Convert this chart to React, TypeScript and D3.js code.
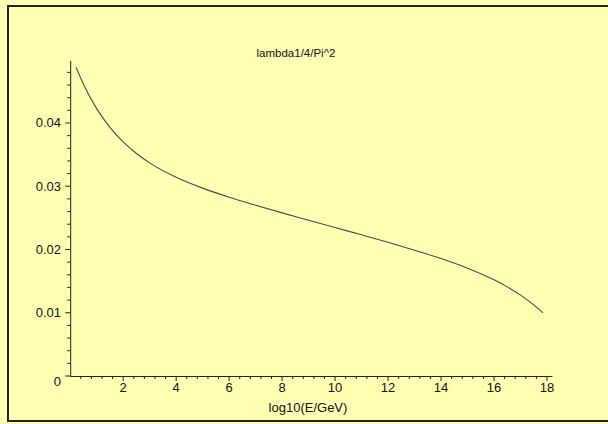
import React from "react";
import * as d3 from "d3";

// Running quartic coupling lambda/(4*Pi^2) against log10 of the energy scale
const logE = [0.22, 0.5, 1.0, 1.5, 2.0, 2.5, 3.0, 4.0, 5.0, 6.0, 7.0, 8.0, 9.0, 10.0, 11.0, 12.0, 13.0, 14.0, 15.0, 16.0, 16.5, 17.0, 17.5, 17.85];
const lambdaScaled = [
  0.0488, 0.04613, 0.04227, 0.03931, 0.037, 0.03518, 0.0337, 0.03142, 0.0297, 0.02827,
  0.027, 0.02579, 0.02463, 0.02347, 0.02232, 0.02114, 0.01989, 0.01856, 0.01704, 0.0152,
  0.01409, 0.01279, 0.01124, 0.00997,
];

const xMajorTicks = [2, 4, 6, 8, 10, 12, 14, 16, 18];
const yMajorTicks = [0, 0.01, 0.02, 0.03, 0.04];
const yTickLabels = ["0", "0.01", "0.02", "0.03", "0.04"];

const title = "lambda1/4/Pi^2";
const xLabel = "log10(E/GeV)";

const W = 608;
const H = 424;
const bg = "#ffffb4";
const ink = "#222";
const font = "'Liberation Sans', Arial, sans-serif";

export default function App() {
  const x = d3.scaleLinear().domain([0, 18.2]).range([70.2, 552.3]);
  const y = d3.scaleLinear().domain([0, 0.0498]).range([376, 61]);

  const xMinor = d3.range(0, 18.2001, 0.4).filter((v) => Math.abs(v / 2 - Math.round(v / 2)) > 1e-6);
  const yMinor = d3.range(0.002, 0.0499, 0.002).filter((v) => Math.abs(v / 0.01 - Math.round(v / 0.01)) > 1e-6);

  const pts: [number, number][] = logE.map((v, i) => [v, lambdaScaled[i]]);
  const line = d3
    .line<[number, number]>()
    .x((d) => x(d[0]))
    .y((d) => y(d[1]))
    .curve(d3.curveMonotoneX);

  const [x0, x1] = x.range();
  const [y0, y1] = y.range();

  return (
    <svg
      width={W}
      height={H}
      style={{ position: "absolute", left: 0, top: 0, display: "block" }}
      fontFamily={font}
    >
      <rect x={0} y={0} width={W} height={H} fill={bg} />
      <rect x={8} y={6} width={W + 10} height={415} fill="none" stroke={ink} strokeWidth={2} />

      <text x={296} y={57} textAnchor="middle" fontSize={11.5} fill="#111">
        {title}
      </text>

      {/* axes */}
      <line x1={x0} x2={x1} y1={y0 + 0.5} y2={y0 + 0.5} stroke={ink} strokeWidth={1} />
      <line x1={x0 + 0.5} x2={x0 + 0.5} y1={y0} y2={y1} stroke={ink} strokeWidth={1} />

      {xMinor.map((v, i) => (
        <line key={"xm" + i} x1={x(v)} x2={x(v)} y1={y0} y2={y0 + 3} stroke={ink} strokeWidth={1} />
      ))}
      {xMajorTicks.map((v) => (
        <g key={"xt" + v}>
          <line x1={x(v)} x2={x(v)} y1={y0} y2={y0 + 5} stroke={ink} strokeWidth={1} />
          <text x={x(v)} y={392} textAnchor="middle" fontSize={13} fill="#111">
            {v}
          </text>
        </g>
      ))}

      {yMinor.map((v, i) => (
        <line key={"ym" + i} x1={x0 - 3} x2={x0} y1={y(v)} y2={y(v)} stroke={ink} strokeWidth={1} />
      ))}
      {yMajorTicks.map((v, i) => (
        <g key={"yt" + v}>
          <line x1={x0 - 5} x2={x0} y1={y(v)} y2={y(v)} stroke={ink} strokeWidth={1} />
          <text
            x={61}
            y={v === 0 ? y(v) + 10 : y(v) + 4.5}
            textAnchor="end"
            fontSize={13}
            fill="#111"
          >
            {yTickLabels[i]}
          </text>
        </g>
      ))}

      <text x={308} y={412} textAnchor="middle" fontSize={13} fill="#111">
        {xLabel}
      </text>

      <path d={line(pts) || ""} fill="none" stroke="#4a4a4a" strokeWidth={1.1} />
    </svg>
  );
}
